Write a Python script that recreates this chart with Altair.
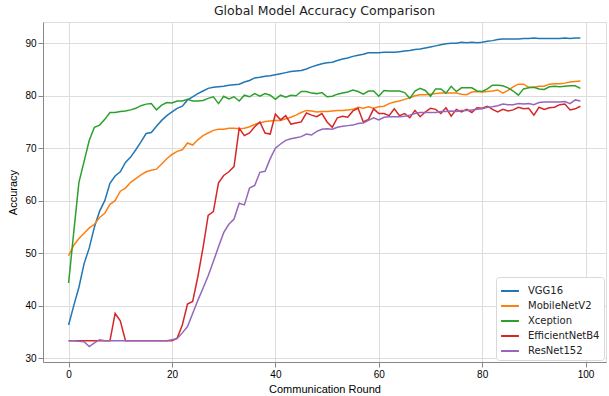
import altair as alt
import pandas as pd

rounds = list(range(100))

vgg16 = [36.3, 40.0, 43.5, 48.0, 51.0, 55.0, 58.0, 60.0, 63.3, 64.7,
         65.5, 67.3, 68.3, 69.7, 71.2, 72.8, 73.0, 74.2, 75.3, 76.2,
         76.9, 77.6, 78.0, 79.2, 79.8, 80.4, 80.9, 81.4, 81.6, 81.7,
         81.8, 82.0, 82.1, 82.2, 82.6, 82.9, 83.4, 83.5, 83.7, 83.8,
         84.0, 84.2, 84.4, 84.6, 84.7, 84.8, 85.1, 85.5, 85.8, 86.1,
         86.3, 86.4, 86.7, 87.0, 87.2, 87.5, 87.7, 87.9, 88.2, 88.2,
         88.2, 88.3, 88.3, 88.3, 88.4, 88.5, 88.6, 88.8, 88.9, 89.1,
         89.3, 89.5, 89.7, 89.9, 90.0, 90.0, 90.2, 90.1, 90.2, 90.1,
         90.2, 90.4, 90.5, 90.7, 90.8, 90.8, 90.8, 90.8, 90.9, 90.9,
         91.0, 90.9, 90.9, 90.9, 90.9, 90.9, 91.0, 90.9, 91.0, 91.0]

mobilenetv2 = [49.5, 51.5, 52.8, 53.8, 54.8, 55.5, 56.8, 57.6, 59.3, 60.0,
               61.8, 62.4, 63.5, 64.2, 64.9, 65.5, 65.8, 66.0, 67.0, 68.0,
               68.8, 69.4, 69.7, 71.0, 70.6, 71.6, 72.4, 72.9, 73.4, 73.6,
               73.6, 73.8, 73.8, 73.7, 73.8, 74.1, 74.5, 74.8, 75.1, 75.2,
               75.3, 75.3, 75.6, 75.9, 76.3, 76.8, 77.2, 77.1, 76.9, 77.0,
               77.0, 77.1, 77.2, 77.2, 77.3, 77.4, 77.8, 77.6, 77.9, 77.6,
               77.9, 78.0, 78.5, 78.8, 79.0, 79.3, 79.6, 80.0, 80.2, 80.2,
               80.3, 80.4, 80.5, 80.5, 80.5, 80.5, 80.3, 80.2, 80.7, 80.8,
               80.7, 80.8, 80.9, 81.1, 80.5, 81.0, 81.7, 82.2, 82.2, 81.6,
               81.6, 81.8, 81.8, 82.2, 82.3, 82.3, 82.4, 82.6, 82.7, 82.8]

xception = [44.3, 54.0, 63.5, 67.5, 71.5, 74.0, 74.4, 75.5, 76.8, 76.8,
            77.0, 77.1, 77.3, 77.6, 78.1, 78.4, 78.5, 77.3, 78.2, 78.7,
            78.6, 79.0, 79.0, 79.3, 79.0, 79.0, 79.1, 79.5, 79.8, 78.5,
            79.9, 79.4, 79.8, 79.0, 80.1, 79.8, 80.4, 79.9, 80.4, 80.1,
            79.3, 80.1, 79.7, 80.1, 80.0, 80.8, 80.8, 80.5, 80.4, 80.6,
            79.8, 79.9, 80.3, 80.5, 80.7, 81.1, 80.8, 80.3, 80.9, 80.9,
            79.9, 81.0, 80.9, 80.9, 80.9, 80.6, 79.5, 80.9, 81.4, 81.0,
            79.9, 81.3, 81.3, 80.5, 81.8, 80.8, 81.5, 81.5, 81.5, 80.9,
            80.8, 81.3, 82.0, 82.0, 81.9, 81.5, 80.9, 80.1, 81.3, 81.5,
            81.6, 81.3, 81.2, 81.7, 81.8, 81.7, 81.8, 81.9, 81.9, 81.4]

efficientnetb4 = [33.3, 33.3, 33.3, 33.3, 33.3, 33.3, 33.3, 33.3, 33.3, 38.5,
                  37.1, 33.3, 33.3, 33.3, 33.3, 33.3, 33.3, 33.3, 33.3, 33.3,
                  33.3, 33.8, 36.3, 40.3, 40.8, 45.5, 51.0, 57.2, 57.9, 63.4,
                  64.8, 65.5, 66.5, 73.8, 72.4, 72.9, 74.1, 75.0, 72.9, 72.7,
                  76.5, 75.4, 76.2, 74.6, 74.8, 75.0, 76.7, 76.3, 76.0, 76.6,
                  75.0, 74.0, 75.8, 76.1, 75.9, 77.1, 77.6, 75.0, 75.5, 77.5,
                  76.6, 76.6, 76.2, 77.5, 76.2, 76.6, 75.8, 77.2, 76.0, 76.9,
                  77.6, 77.4, 76.6, 77.7, 76.1, 77.4, 76.9, 77.4, 76.8, 77.7,
                  77.6, 78.0, 77.4, 76.9, 77.4, 77.1, 77.3, 77.8, 77.5, 77.6,
                  76.3, 77.8, 77.4, 77.7, 77.8, 78.3, 78.4, 77.3, 77.5, 78.0]

resnet152 = [33.3, 33.3, 33.2, 33.1, 32.2, 32.9, 33.5, 33.3, 33.3, 33.3,
             33.3, 33.3, 33.3, 33.3, 33.3, 33.3, 33.3, 33.3, 33.3, 33.3,
             33.5, 33.7, 34.8, 36.0, 38.5, 41.0, 43.3, 45.7, 48.4, 51.2,
             53.9, 55.5, 56.5, 59.5, 59.2, 62.4, 62.9, 65.4, 65.6, 68.0,
             70.0, 70.8, 71.5, 71.8, 72.0, 72.2, 72.7, 72.5, 73.2, 73.6,
             73.7, 73.6, 74.0, 74.2, 74.3, 74.4, 74.7, 74.8, 75.3, 75.8,
             75.4, 75.9, 76.0, 76.0, 76.0, 76.1, 76.3, 76.6, 76.8, 76.8,
             76.8, 76.8, 77.0, 77.0, 77.1, 77.0, 77.2, 77.2, 77.3, 77.4,
             77.5, 77.8, 77.9, 78.1, 78.4, 78.3, 78.3, 78.5, 78.4, 78.5,
             78.3, 78.7, 78.8, 78.8, 78.8, 78.8, 78.9, 78.5, 79.2, 79.0]

models = ["VGG16", "MobileNetV2", "Xception", "EfficientNetB4", "ResNet152"]
series = [vgg16, mobilenetv2, xception, efficientnetb4, resnet152]
colors = ["#1f77b4", "#ff7f0e", "#2ca02c", "#d62728", "#9467bd"]

x_ticks = [0, 20, 40, 60, 80, 100]
y_ticks = [30, 40, 50, 60, 70, 80, 90]

rows = []
for order, (name, vals) in enumerate(zip(models, series)):
    for r, v in zip(rounds, vals):
        rows.append({"Round": r, "Accuracy": v, "Model": name, "order": order})
df = pd.DataFrame(rows)

FONT = "DejaVu Sans"

chart = alt.Chart(df).mark_line(strokeWidth=1.5).encode(
    x=alt.X("Round:Q",
            scale=alt.Scale(domain=[-4.95, 103.95], nice=False, zero=False),
            axis=alt.Axis(values=x_ticks, title="Communication Round",
                          titlePadding=4, titleFontWeight=400)),
    y=alt.Y("Accuracy:Q",
            scale=alt.Scale(domain=[29.25, 94.05], nice=False, zero=False),
            axis=alt.Axis(values=y_ticks, title="Accuracy", titlePadding=6,
                          titleFontWeight=400)),
    color=alt.Color("Model:N",
                    scale=alt.Scale(domain=models, range=colors),
                    sort=models,
                    legend=alt.Legend(title=None, orient="none",
                                      legendX=453, legendY=255,
                                      symbolType="stroke", symbolSize=320,
                                      symbolStrokeWidth=2,
                                      labelFontSize=10, labelFont=FONT,
                                      labelColor="#222222",
                                      labelOffset=8, rowPadding=-2.5,
                                      padding=4, fillColor="white",
                                      strokeColor="#d8d8d8", cornerRadius=3)),
    order=alt.Order("order:Q"),
).properties(
    width=563,
    height=340,
    title=alt.TitleParams("Global Model Accuracy Comparison", fontSize=12.5,
                          font=FONT, fontWeight="normal", color="#222222",
                          anchor="middle", offset=5),
    autosize=alt.AutoSizeParams(type="none"),
    padding={"left": 43, "top": 22, "right": 3, "bottom": 34},
).configure_view(
    stroke="#222222", strokeWidth=1
).configure_axis(
    domain=False,
    grid=True,
    gridColor="#cccccc",
    gridWidth=1,
    ticks=True,
    tickColor="#222222",
    tickSize=3.5,
    labelPadding=2,
    labelFont=FONT,
    labelFontSize=10,
    labelColor="#222222",
    titleFont=FONT,
    titleFontSize=10.5,
    titleFontWeight=400,
    titleColor="#222222",
).configure(background="white")

chart.save("out.html", embed_options={"renderer": "svg", "actions": False})
